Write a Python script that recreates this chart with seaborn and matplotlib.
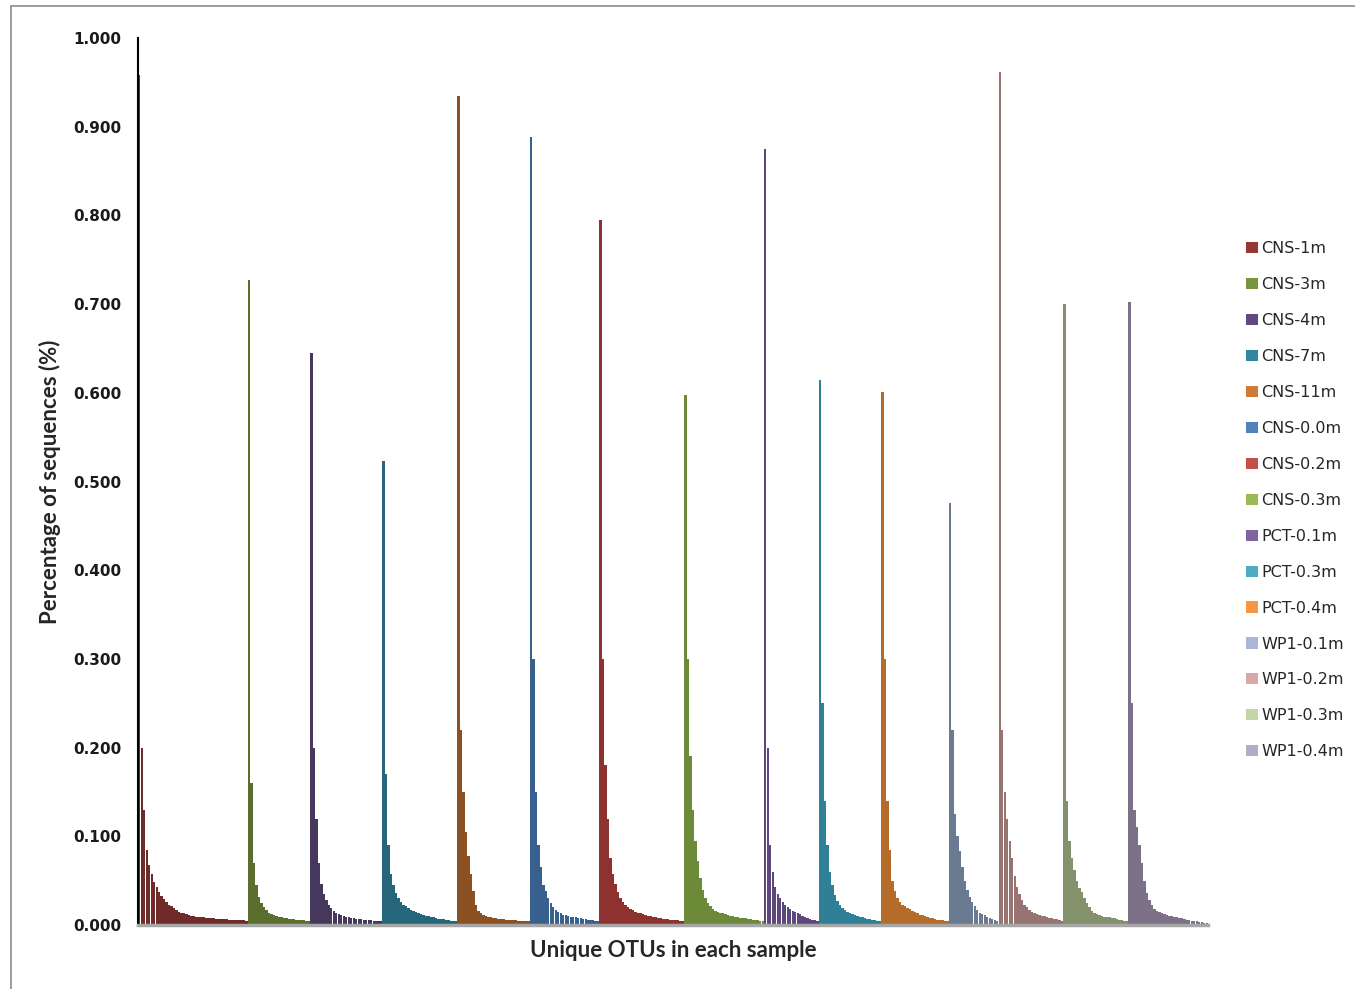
import matplotlib
matplotlib.use("Agg")
import matplotlib.pyplot as plt
from matplotlib.patches import Patch, Rectangle
from matplotlib.ticker import FixedLocator, FormatStrFormatter
import pandas as pd
import seaborn as sns

# Rank-abundance values (fraction of sequences) for each sample, ordered by OTU rank
cns_1m = [0.958, 0.20, 0.13, 0.085, 0.068, 0.058, 0.049, 0.043, 0.037, 0.033,
          0.029, 0.026, 0.023, 0.021, 0.019, 0.017, 0.015, 0.014, 0.013, 0.012,
          0.011, 0.010, 0.0098, 0.0095, 0.0092, 0.009, 0.0087, 0.0084, 0.0081, 0.0078,
          0.0075, 0.0072, 0.007, 0.0068, 0.0066, 0.0064, 0.0062, 0.006, 0.0058, 0.0056,
          0.0054, 0.0053, 0.0052, 0.005]
cns_3m = [0.727, 0.16, 0.07, 0.045, 0.032, 0.025, 0.02, 0.017, 0.014, 0.012,
          0.011, 0.010, 0.0092, 0.0086, 0.008, 0.0076, 0.0072, 0.0068, 0.0064, 0.006,
          0.0057, 0.0054, 0.0051, 0.0048, 0.0046]
cns_4m = [0.645, 0.20, 0.12, 0.07, 0.046, 0.035, 0.028, 0.023, 0.019, 0.016,
          0.014, 0.012, 0.011, 0.010, 0.0092, 0.0086, 0.008, 0.0076, 0.0072, 0.0068,
          0.0064, 0.006, 0.0057, 0.0054, 0.0051, 0.0048, 0.0046, 0.0044, 0.0042]
cns_7m = [0.523, 0.17, 0.09, 0.058, 0.045, 0.036, 0.030, 0.026, 0.023, 0.021,
          0.019, 0.017, 0.0155, 0.0143, 0.0135, 0.0125, 0.0115, 0.0105, 0.0097, 0.009,
          0.0085, 0.008, 0.0073, 0.0068, 0.0063, 0.0058, 0.0054, 0.005, 0.0046, 0.0042]
cns_11m = [0.935, 0.22, 0.15, 0.105, 0.078, 0.058, 0.038, 0.022, 0.016, 0.013,
           0.011, 0.0098, 0.009, 0.0085, 0.008, 0.0076, 0.0072, 0.0068, 0.0065, 0.0062,
           0.006, 0.0057, 0.0055, 0.0052, 0.005, 0.0048, 0.0046, 0.0044, 0.0042]
cns_00m = [0.888, 0.30, 0.15, 0.09, 0.065, 0.045, 0.038, 0.031, 0.025, 0.02,
           0.017, 0.015, 0.013, 0.0118, 0.011, 0.0102, 0.0095, 0.009, 0.0085, 0.008,
           0.0075, 0.007, 0.0065, 0.006, 0.0056, 0.0052, 0.0048, 0.0045]
cns_02m = [0.795, 0.30, 0.18, 0.12, 0.075, 0.058, 0.046, 0.037, 0.031, 0.026,
           0.022, 0.020, 0.018, 0.0165, 0.015, 0.014, 0.0135, 0.0125, 0.0115, 0.0105,
           0.0097, 0.009, 0.0085, 0.008, 0.0076, 0.0072, 0.0068, 0.0064, 0.006, 0.0057,
           0.0054, 0.0051, 0.0048, 0.0045]
cns_03m = [0.598, 0.30, 0.19, 0.13, 0.095, 0.072, 0.053, 0.04, 0.03, 0.025,
           0.021, 0.018, 0.016, 0.015, 0.014, 0.013, 0.012, 0.011, 0.0105, 0.0098,
           0.0092, 0.0088, 0.0084, 0.008, 0.0074, 0.0068, 0.0064, 0.006, 0.0056, 0.0052,
           0.0048, 0.0045]
pct_01m = [0.875, 0.20, 0.09, 0.06, 0.043, 0.035, 0.03, 0.026, 0.023, 0.02,
           0.018, 0.016, 0.0145, 0.0135, 0.012, 0.0105, 0.009, 0.0078, 0.0068, 0.006,
           0.0052, 0.0045]
pct_03m = [0.614, 0.25, 0.14, 0.09, 0.06, 0.045, 0.034, 0.027, 0.022, 0.019,
           0.017, 0.015, 0.0138, 0.0125, 0.0113, 0.0102, 0.0093, 0.0085, 0.0078, 0.0072,
           0.0066, 0.006, 0.0055, 0.005, 0.0045]
pct_04m = [0.601, 0.30, 0.14, 0.085, 0.05, 0.038, 0.03, 0.026, 0.023, 0.021,
           0.019, 0.0175, 0.016, 0.0145, 0.013, 0.0118, 0.0108, 0.0098, 0.009, 0.0082,
           0.0075, 0.0068, 0.0062, 0.0057, 0.0052, 0.0048, 0.0044]
wp1_01m = [0.476, 0.22, 0.125, 0.10, 0.083, 0.065, 0.05, 0.04, 0.032, 0.026,
           0.021, 0.017, 0.014, 0.012, 0.011, 0.0095, 0.0082, 0.007, 0.0058, 0.0048]
wp1_02m = [0.962, 0.22, 0.15, 0.12, 0.095, 0.075, 0.055, 0.043, 0.035, 0.028,
           0.023, 0.02, 0.017, 0.015, 0.0138, 0.0125, 0.0115, 0.0105, 0.0097, 0.009,
           0.0083, 0.0076, 0.007, 0.0063, 0.0056, 0.0048]
wp1_03m = [0.700, 0.14, 0.095, 0.075, 0.062, 0.05, 0.042, 0.037, 0.031, 0.025,
           0.02, 0.016, 0.0135, 0.012, 0.011, 0.0102, 0.0095, 0.009, 0.0085, 0.008,
           0.0074, 0.0068, 0.0062, 0.0056, 0.005, 0.0045]
wp1_04m = [0.702, 0.25, 0.13, 0.11, 0.09, 0.07, 0.05, 0.036, 0.028, 0.022,
           0.018, 0.016, 0.0145, 0.0135, 0.0125, 0.0115, 0.0105, 0.0098, 0.0092, 0.0086,
           0.008, 0.0074, 0.0068, 0.0062, 0.0056, 0.005, 0.0045, 0.004, 0.0036, 0.0032,
           0.0028, 0.0025]

samples = ["CNS-1m", "CNS-3m", "CNS-4m", "CNS-7m", "CNS-11m", "CNS-0.0m",
           "CNS-0.2m", "CNS-0.3m", "PCT-0.1m", "PCT-0.3m", "PCT-0.4m",
           "WP1-0.1m", "WP1-0.2m", "WP1-0.3m", "WP1-0.4m"]
sample_values = [cns_1m, cns_3m, cns_4m, cns_7m, cns_11m, cns_00m, cns_02m,
                 cns_03m, pct_01m, pct_03m, pct_04m, wp1_01m, wp1_02m,
                 wp1_03m, wp1_04m]

y_ticks = [0.0, 0.1, 0.2, 0.3, 0.4, 0.5, 0.6, 0.7, 0.8, 0.9, 1.0]

# Shaded bar fill colours and the lighter legend swatch colours
bar_colors = ["#6F2A2A", "#5B6E2E", "#46375C", "#26667A", "#8C5123",
              "#37608F", "#8E3230", "#6C8A38", "#5E477A", "#2F8096",
              "#B56C2A", "#6A7A92", "#977371", "#84926B", "#7C7189"]
legend_colors = ["#953735", "#77933C", "#604A7B", "#31859C", "#D07A38",
                 "#4F81BD", "#C0504D", "#9BBB59", "#8064A2", "#4BACC6",
                 "#F79646", "#A9B8D6", "#D9A7A5", "#C4D6A8", "#B5AAC7"]

# Long table: one row per OTU, laid out consecutively along the x axis
rows = []
pos = 0
for name, vals in zip(samples, sample_values):
    for v in vals:
        rows.append({"pos": pos, "sample": name, "value": v})
        pos += 1
df = pd.DataFrame(rows)
n_bars = len(df)

sns.set_style("white")
plt.rcParams["font.family"] = ["DejaVu Sans"]

fig = plt.figure(figsize=(13.55, 9.89), dpi=100)
ax = fig.add_axes([138 / 1355, 1 - 925 / 989, (1208 - 138) / 1355, (925 - 38) / 989])

sns.barplot(data=df, x="pos", y="value", hue="sample", hue_order=samples,
            order=list(range(n_bars)), palette=dict(zip(samples, bar_colors)),
            dodge=False, width=0.96, errorbar=None, saturation=1,
            linewidth=0, legend=False, ax=ax)

ax.set_xlim(-0.5, n_bars - 0.5)
ax.set_ylim(0, 1.0)
ax.set_xticks([])
ax.yaxis.set_major_locator(FixedLocator(y_ticks))
ax.yaxis.set_major_formatter(FormatStrFormatter("%.3f"))
ax.tick_params(axis="y", direction="out", length=5, width=1.3, color="black",
               labelsize=11, pad=7)
for lab in ax.get_yticklabels():
    lab.set_fontweight("bold")
    lab.set_color("#1A1A1A")

for side in ("top", "right"):
    ax.spines[side].set_visible(False)
ax.spines["left"].set_color("black")
ax.spines["left"].set_linewidth(1.5)
ax.spines["bottom"].set_color("#A6A6A6")
ax.spines["bottom"].set_linewidth(2.5)

ax.set_xlabel("Unique OTUs in each sample", fontsize=16, fontweight="bold",
              family="Lato", labelpad=11)
ax.set_ylabel("Percentage of sequences (%)", fontsize=16, fontweight="bold",
              family="Lato", labelpad=9)

handles = [Patch(facecolor=c, edgecolor="none") for c in legend_colors]
fig.legend(handles, samples, loc="upper left",
           bbox_to_anchor=(1240 / 1355, 1 - 235 / 989), frameon=False,
           fontsize=11.5, handlelength=0.7, handleheight=0.7,
           handletextpad=0.25, labelspacing=1.31, borderaxespad=0)

# Outer chart-area border
fig.add_artist(Rectangle((11 / 1355, -0.5), 2.0, 1.5 - 6 / 989,
                         transform=fig.transFigure, fill=False,
                         edgecolor="#8C8C8C", linewidth=1.2))

fig.savefig("out.png", dpi=100, facecolor="white")
